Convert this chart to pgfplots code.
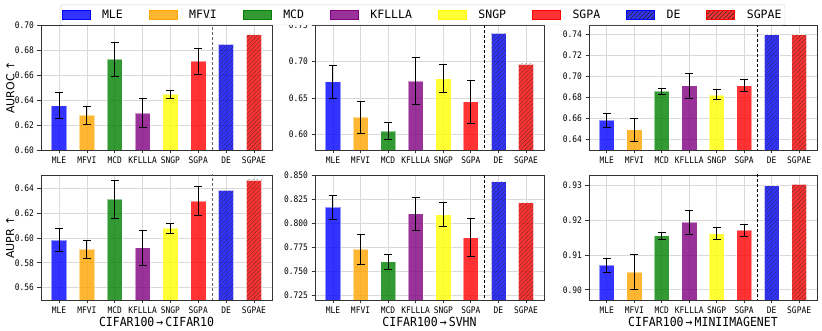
\documentclass[border=0pt]{standalone}
\usepackage{fontspec}
\usepackage{pgfplots}
\pgfplotsset{compat=1.18}
\usetikzlibrary{patterns.meta}
\setmainfont{DejaVu Sans}
\newfontfamily\tickfont[FakeStretch=0.88]{DejaVu Sans Mono}
\newfontfamily\xlabfont[FakeStretch=0.92]{DejaVu Sans Mono}
\newfontfamily\legfont{DejaVu Sans Mono}
\definecolor{cMLE}{HTML}{0000FF}
\definecolor{cMFVI}{HTML}{FFA500}
\definecolor{cMCD}{HTML}{008000}
\definecolor{cKF}{HTML}{800080}
\definecolor{cSNGP}{HTML}{FFFF00}
\definecolor{cSGPA}{HTML}{FF0000}
\pgfplotsset{
  mybar/.style={forget plot, ybar, bar width=0.55, bar shift=0pt, fill=#1, fill opacity=0.8,
    draw=white, draw opacity=0.5, line width=0.6pt,
    error bars/.cd, y dir=both, y explicit,
    error bar style={black, line width=0.9pt, draw opacity=1},
    error mark options={black, rotate=90, mark size=4pt, line width=0.9pt}},
  hbar/.style={forget plot, ybar, bar width=0.55, bar shift=0pt, fill=#1, fill opacity=0.8,
    draw=white, draw opacity=0.5, line width=0.6pt,
    postaction={pattern color=black!85, pattern={Lines[angle=45,distance=3pt,line width=0.6pt]}}},
  panel/.style={
    scale only axis, width=231pt, height=125pt, anchor=south west,
    xmin=-0.65, xmax=7.65, xtick={0,...,7},
    xticklabels={MLE,MFVI,MCD,KFLLLA,SNGP,SGPA,DE,SGPAE},
    grid=major, major grid style={black!15, line width=0.8pt},
    axis line style={black!80, line width=0.8pt},
    tick align=outside, tick pos=left, major tick length=3.5pt,
    tick style={black!80, line width=0.8pt},
    /pgf/number format/assume math mode=true,
    yticklabel style={/pgf/number format/.cd, fixed, fixed zerofill, precision=2},
    tick label style={font=\tickfont\fontsize{9}{9}\selectfont, text=black},
    every axis y label/.style={at={(axis description cs:-0.133,0.5)}, rotate=90, anchor=center,
      font=\fontsize{11}{12}\selectfont},
    every axis x label/.style={at={(axis description cs:0.5,-0.176)}, anchor=center,
      font=\xlabfont\fontsize{12.5}{13}\selectfont},
  },
}
\begin{document}
\begin{tikzpicture}
\path[use as bounding box] (0,0) rectangle (822pt,331pt);
% ---------- Row 1: AUROC ----------
\begin{axis}[panel, at={(41pt,181pt)}, ymin=0.60, ymax=0.70, ytick={0.60,0.62,...,0.701}, ylabel={AUROC ↑}]
\addplot[mybar=cMLE] coordinates {(0,0.6355) +- (0,0.0104)};
\addplot[mybar=cMFVI] coordinates {(1,0.6276) +- (0,0.0071)};
\addplot[mybar=cMCD] coordinates {(2,0.6725) +- (0,0.0139)};
\addplot[mybar=cKF] coordinates {(3,0.6295) +- (0,0.0116)};
\addplot[mybar=cSNGP] coordinates {(4,0.6445) +- (0,0.0032)};
\addplot[mybar=cSGPA] coordinates {(5,0.6709) +- (0,0.0104)};
\addplot[hbar=cMLE] coordinates {(6,0.6845)};
\addplot[hbar=cSGPA] coordinates {(7,0.6923)};
\addplot[forget plot, black!60, line width=0.9pt, dash pattern=on 3pt off 2pt] coordinates {(5.5,0) (5.5,1)};
\end{axis}
\begin{axis}[panel, at={(315pt,181pt)}, width=229pt, ymin=0.579, ymax=0.75, ytick={0.60,0.65,0.70,0.75}]
\addplot[mybar=cMLE] coordinates {(0,0.6725) +- (0,0.0225)};
\addplot[mybar=cMFVI] coordinates {(1,0.6241) +- (0,0.0218)};
\addplot[mybar=cMCD] coordinates {(2,0.6050) +- (0,0.0114)};
\addplot[mybar=cKF] coordinates {(3,0.6730) +- (0,0.0320)};
\addplot[mybar=cSNGP] coordinates {(4,0.6764) +- (0,0.0190)};
\addplot[mybar=cSGPA] coordinates {(5,0.6452) +- (0,0.0293)};
\addplot[hbar=cMLE] coordinates {(6,0.7390)};
\addplot[hbar=cSGPA] coordinates {(7,0.6968)};
\addplot[forget plot, black, line width=0.9pt, dash pattern=on 3pt off 2pt] coordinates {(5.5,0) (5.5,1)};
\end{axis}
\begin{axis}[panel, at={(589pt,181pt)}, width=228pt, ymin=0.630, ymax=0.749, ytick={0.64,0.66,...,0.741}]
\addplot[mybar=cMLE] coordinates {(0,0.6582) +- (0,0.0070)};
\addplot[mybar=cMFVI] coordinates {(1,0.6493) +- (0,0.0109)};
\addplot[mybar=cMCD] coordinates {(2,0.6857) +- (0,0.0027)};
\addplot[mybar=cKF] coordinates {(3,0.6912) +- (0,0.0117)};
\addplot[mybar=cSNGP] coordinates {(4,0.6825) +- (0,0.0048)};
\addplot[mybar=cSGPA] coordinates {(5,0.6912) +- (0,0.0056)};
\addplot[hbar=cMLE] coordinates {(6,0.7397)};
\addplot[hbar=cSGPA] coordinates {(7,0.7397)};
\addplot[forget plot, black, line width=0.9pt, dash pattern=on 3pt off 2pt] coordinates {(5.5,0) (5.5,1)};
\end{axis}
% ---------- Row 2: AUPR ----------
\begin{axis}[panel, at={(41pt,31pt)}, ymin=0.55, ymax=0.651, ytick={0.56,0.58,...,0.641}, ylabel={AUPR ↑},
  xlabel={CIFAR100\,→\,CIFAR10}]
\addplot[mybar=cMLE] coordinates {(0,0.5982) +- (0,0.0093)};
\addplot[mybar=cMFVI] coordinates {(1,0.5909) +- (0,0.0073)};
\addplot[mybar=cMCD] coordinates {(2,0.6314) +- (0,0.0154)};
\addplot[mybar=cKF] coordinates {(3,0.5922) +- (0,0.0141)};
\addplot[mybar=cSNGP] coordinates {(4,0.6079) +- (0,0.0042)};
\addplot[mybar=cSGPA] coordinates {(5,0.6298) +- (0,0.0116)};
\addplot[hbar=cMLE] coordinates {(6,0.6387)};
\addplot[hbar=cSGPA] coordinates {(7,0.6470)};
\addplot[forget plot, black!60, line width=0.9pt, dash pattern=on 3pt off 2pt] coordinates {(5.5,0) (5.5,1)};
\end{axis}
\begin{axis}[panel, at={(315pt,31pt)}, width=229pt, ymin=0.7201, ymax=0.850, ytick={0.725,0.750,0.775,0.800,0.825,0.850},
  yticklabel style={/pgf/number format/.cd, fixed, fixed zerofill, precision=3},
  xlabel={CIFAR100\,→\,SVHN}]
\addplot[mybar=cMLE] coordinates {(0,0.8167) +- (0,0.0125)};
\addplot[mybar=cMFVI] coordinates {(1,0.7729) +- (0,0.0158)};
\addplot[mybar=cMCD] coordinates {(2,0.7598) +- (0,0.0080)};
\addplot[mybar=cKF] coordinates {(3,0.8097) +- (0,0.0174)};
\addplot[mybar=cSNGP] coordinates {(4,0.8089) +- (0,0.0127)};
\addplot[mybar=cSGPA] coordinates {(5,0.7849) +- (0,0.0198)};
\addplot[hbar=cMLE] coordinates {(6,0.8430)};
\addplot[hbar=cSGPA] coordinates {(7,0.8214)};
\addplot[forget plot, black, line width=0.9pt, dash pattern=on 3pt off 2pt] coordinates {(5.5,0) (5.5,1)};
\end{axis}
\begin{axis}[panel, at={(589pt,31pt)}, width=228pt, ymin=0.8971, ymax=0.9329, ytick={0.90,0.91,0.92,0.93},
  xlabel={CIFAR100\,→\,MINIIMAGENET},
  legend columns=8,
  legend style={at={(axis description cs:-0.730,2.28)}, anchor=center, draw=black!20,
    fill=white, rounded corners=2pt, inner xsep=1.5pt, inner ysep=3pt,
    font=\legfont\fontsize{11.5}{11.5}\selectfont,
    /tikz/every odd column/.append style={column sep=10pt},
    /tikz/every even column/.append style={column sep=24pt}},
  legend cell align=left]
\addplot[mybar=cMLE] coordinates {(0,0.9070) +- (0,0.0020)};
\addplot[mybar=cMFVI] coordinates {(1,0.9051) +- (0,0.0049)};
\addplot[mybar=cMCD] coordinates {(2,0.9155) +- (0,0.0010)};
\addplot[mybar=cKF] coordinates {(3,0.9193) +- (0,0.0034)};
\addplot[mybar=cSNGP] coordinates {(4,0.9161) +- (0,0.0018)};
\addplot[mybar=cSGPA] coordinates {(5,0.9170) +- (0,0.0018)};
\addplot[hbar=cMLE] coordinates {(6,0.9298)};
\addplot[hbar=cSGPA] coordinates {(7,0.9303)};
\addplot[forget plot, black, line width=0.9pt, dash pattern=on 3pt off 2pt] coordinates {(5.5,0) (5.5,1)};
\addlegendimage{legend image code/.code={\fill[cMLE, fill opacity=0.8, sharp corners] (0pt,-4.5pt) rectangle (28pt,4.5pt);}}
\addlegendentry{MLE}
\addlegendimage{legend image code/.code={\fill[cMFVI, fill opacity=0.8, sharp corners] (0pt,-4.5pt) rectangle (28pt,4.5pt);}}
\addlegendentry{MFVI}
\addlegendimage{legend image code/.code={\fill[cMCD, fill opacity=0.8, sharp corners] (0pt,-4.5pt) rectangle (28pt,4.5pt);}}
\addlegendentry{MCD}
\addlegendimage{legend image code/.code={\fill[cKF, fill opacity=0.8, sharp corners] (0pt,-4.5pt) rectangle (28pt,4.5pt);}}
\addlegendentry{KFLLLA}
\addlegendimage{legend image code/.code={\fill[cSNGP, fill opacity=0.8, sharp corners] (0pt,-4.5pt) rectangle (28pt,4.5pt);}}
\addlegendentry{SNGP}
\addlegendimage{legend image code/.code={\fill[cSGPA, fill opacity=0.8, sharp corners] (0pt,-4.5pt) rectangle (28pt,4.5pt);}}
\addlegendentry{SGPA}
\addlegendimage{legend image code/.code={\fill[cMLE, fill opacity=0.8, sharp corners, postaction={pattern color=black!85, pattern={Lines[angle=45,distance=3pt,line width=0.6pt]}}] (0pt,-4.5pt) rectangle (28pt,4.5pt);}}
\addlegendentry{DE}
\addlegendimage{legend image code/.code={\fill[cSGPA, fill opacity=0.8, sharp corners, postaction={pattern color=black!85, pattern={Lines[angle=45,distance=3pt,line width=0.6pt]}}] (0pt,-4.5pt) rectangle (28pt,4.5pt);}}
\addlegendentry{SGPAE}
\end{axis}
\end{tikzpicture}
\end{document}
